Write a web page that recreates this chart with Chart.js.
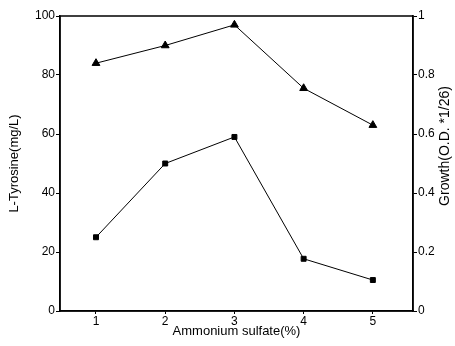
<!DOCTYPE html>
<html>
<head>
<meta charset="utf-8">
<script src="https://cdn.jsdelivr.net/npm/chart.js@4/dist/chart.umd.min.js"></script>
<style>
  html, body { margin: 0; padding: 0; background: #fff; }
  #wrap { width: 455px; height: 346px; }
</style>
</head>
<body>
<div id="wrap"><canvas id="chart" width="455" height="346"></canvas></div>
<script>
// --- data ---
const sulfate = [1, 2, 3, 4, 5];
const tyrosine = [25, 50, 59, 17.7, 10.5];          // left axis, mg/L (squares)
const growth = [0.84, 0.90, 0.97, 0.755, 0.63];      // right axis, O.D.*1/26 (triangles)
const xTicks = [1, 2, 3, 4, 5];
const leftTicks = [0, 20, 40, 60, 80, 100];
const rightTicks = [0, 0.2, 0.4, 0.6, 0.8, 1];

const family = 'Liberation Sans, Arial, sans-serif';
const tickFont = { family: family, size: 12 };
const titleFont = { family: family, size: 13 };

// closed frame around the plot + right axis title reading bottom-to-top
const framePlugin = {
    id: 'frame',
    afterDraw(chart) {
        const { ctx, chartArea: a } = chart;
        ctx.save();
        ctx.strokeStyle = '#000';
        ctx.lineWidth = 1.5;
        ctx.strokeRect(a.left, a.top, a.right - a.left, a.bottom - a.top);

        ctx.translate(445, 146);
        ctx.rotate(-Math.PI / 2);
        ctx.fillStyle = '#000';
        ctx.font = '14px ' + family;
        ctx.textAlign = 'center';
        ctx.textBaseline = 'middle';
        ctx.fillText('Growth(O.D. *1/26)', 0, 0);
        ctx.restore();
    }
};

new Chart(document.getElementById('chart').getContext('2d'), {
    type: 'scatter',
    data: {
        datasets: [
            {
                label: 'L-Tyrosine',
                data: sulfate.map((x, i) => ({ x: x, y: tyrosine[i] })),
                yAxisID: 'y',
                showLine: true,
                borderColor: '#000',
                backgroundColor: '#000',
                borderWidth: 1,
                pointStyle: 'rect',
                pointRadius: 3.5,
                pointHoverRadius: 3.5
            },
            {
                label: 'Growth',
                data: sulfate.map((x, i) => ({ x: x, y: growth[i] })),
                yAxisID: 'y2',
                showLine: true,
                borderColor: '#000',
                backgroundColor: '#000',
                borderWidth: 1,
                pointStyle: 'triangle',
                pointRadius: 4.5,
                pointHoverRadius: 4.5
            }
        ]
    },
    options: {
        responsive: false,
        animation: false,
        layout: { padding: { top: 16, left: 0, right: 0, bottom: 0 } },
        plugins: { legend: { display: false }, tooltip: { enabled: false } },
        scales: {
            x: {
                type: 'linear',
                min: 0.48, max: 5.58,
                afterBuildTicks: s => { s.ticks = xTicks.map(v => ({ value: v })); },
                afterFit: s => { s.height = 35; },
                grid: { drawOnChartArea: false, drawTicks: true, tickLength: 3, color: '#000' },
                border: { display: true, color: '#000', width: 1.5 },
                ticks: { color: '#000', font: tickFont, padding: 0 },
                title: { display: true, text: 'Ammonium sulfate(%)', color: '#000', font: titleFont, padding: { top: 0, bottom: 7 } }
            },
            y: {
                position: 'left',
                min: 0, max: 100,
                afterBuildTicks: s => { s.ticks = leftTicks.map(v => ({ value: v })); },
                afterFit: s => { s.width = 60; },
                grid: { drawOnChartArea: false, drawTicks: true, tickLength: 4, color: '#000' },
                border: { display: true, color: '#000', width: 1.5 },
                ticks: { color: '#000', font: tickFont, padding: 1 },
                title: { display: true, text: 'L-Tyrosine(mg/L)', color: '#000', font: titleFont, padding: { top: 7, bottom: 0 } }
            },
            y2: {
                position: 'right',
                min: 0, max: 1,
                afterBuildTicks: s => { s.ticks = rightTicks.map(v => ({ value: v })); },
                afterFit: s => { s.width = 42; },
                grid: { drawOnChartArea: false, drawTicks: true, tickLength: 4, color: '#000' },
                border: { display: true, color: '#000', width: 1.5 },
                ticks: { color: '#000', font: tickFont, padding: 1, callback: v => String(v) }
            }
        }
    },
    plugins: [framePlugin]
});
</script>
</body>
</html>
